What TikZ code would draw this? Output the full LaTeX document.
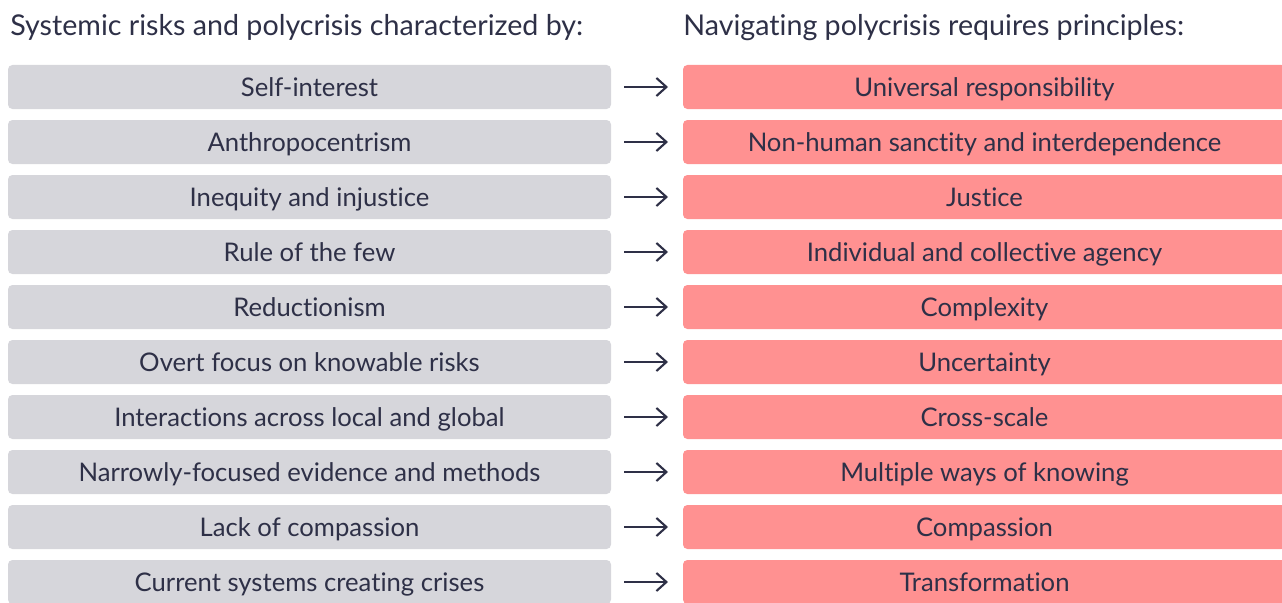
\documentclass[tikz,border=0pt]{standalone}
\usepackage{fontspec}
\setmainfont{Lato}[Ligatures=NoCommon]
\usetikzlibrary{arrows.meta, positioning}
\definecolor{riskgray}{HTML}{D6D6DB}
\definecolor{principlered}{HTML}{FF9191}
\definecolor{inkblue}{HTML}{2E3047}
\tikzset{
  rowbox/.style = {minimum width=12.06cm, minimum height=0.88cm,
    inner sep=0pt, outer sep=0pt, rounded corners=2.5pt, text=inkblue,
    text height=11.5pt, text depth=1pt,
    font=\fontsize{14.6}{17}\selectfont},
  risk/.style = {rowbox, fill=riskgray},
  principle/.style = {rowbox, fill=principlered},
  heading/.style = {anchor=west, inner sep=0pt, text=inkblue,
    text height=12.7pt, text depth=1pt,
    font=\fontsize{16.3}{19}\selectfont}
}

\begin{document}
\begin{tikzpicture}[->, >={Straight Barb[length=0.2cm, width=0.36cm]},
  node distance=0.22cm and 1.44cm]
\useasboundingbox (0,0) rectangle (25.64,-12.04);
% headings
\node[heading] (lhead) at (0.2,-0.5) {Systemic risks and polycrisis characterized by:};
\node[heading] (rhead) at (13.66,-0.5) {Navigating polycrisis requires principles:};
% left column
\node[risk] (r1) at (6.19,-1.74) {Self-interest};
\node[risk, below=of r1] (r2) {Anthropocentrism};
\node[risk, below=of r2] (r3) {Inequity and injustice};
\node[risk, below=of r3] (r4) {Rule of the few};
\node[risk, below=of r4] (r5) {Reductionism};
\node[risk, below=of r5] (r6) {Overt focus on knowable risks};
\node[risk, below=of r6] (r7) {Interactions across local and global};
\node[risk, below=of r7] (r8) {Narrowly-focused evidence and methods};
\node[risk, below=of r8] (r9) {Lack of compassion};
\node[risk, below=of r9] (r10) {Current systems creating crises};
% right column
\node[principle, right=of r1] (p1) {Universal responsibility};
\node[principle, right=of r2] (p2) {Non-human sanctity and interdependence};
\node[principle, right=of r3] (p3) {Justice};
\node[principle, right=of r4] (p4) {Individual and collective agency};
\node[principle, right=of r5] (p5) {Complexity};
\node[principle, right=of r6] (p6) {Uncertainty};
\node[principle, right=of r7] (p7) {Cross-scale};
\node[principle, right=of r8] (p8) {Multiple ways of knowing};
\node[principle, right=of r9] (p9) {Compassion};
\node[principle, right=of r10] (p10) {Transformation};
% arrows
\foreach \i in {1,...,10}
  \draw[inkblue, line width=1.2pt, shorten <=0.26cm, shorten >=0.3cm] (r\i) -- (p\i);
\end{tikzpicture}
\end{document}
